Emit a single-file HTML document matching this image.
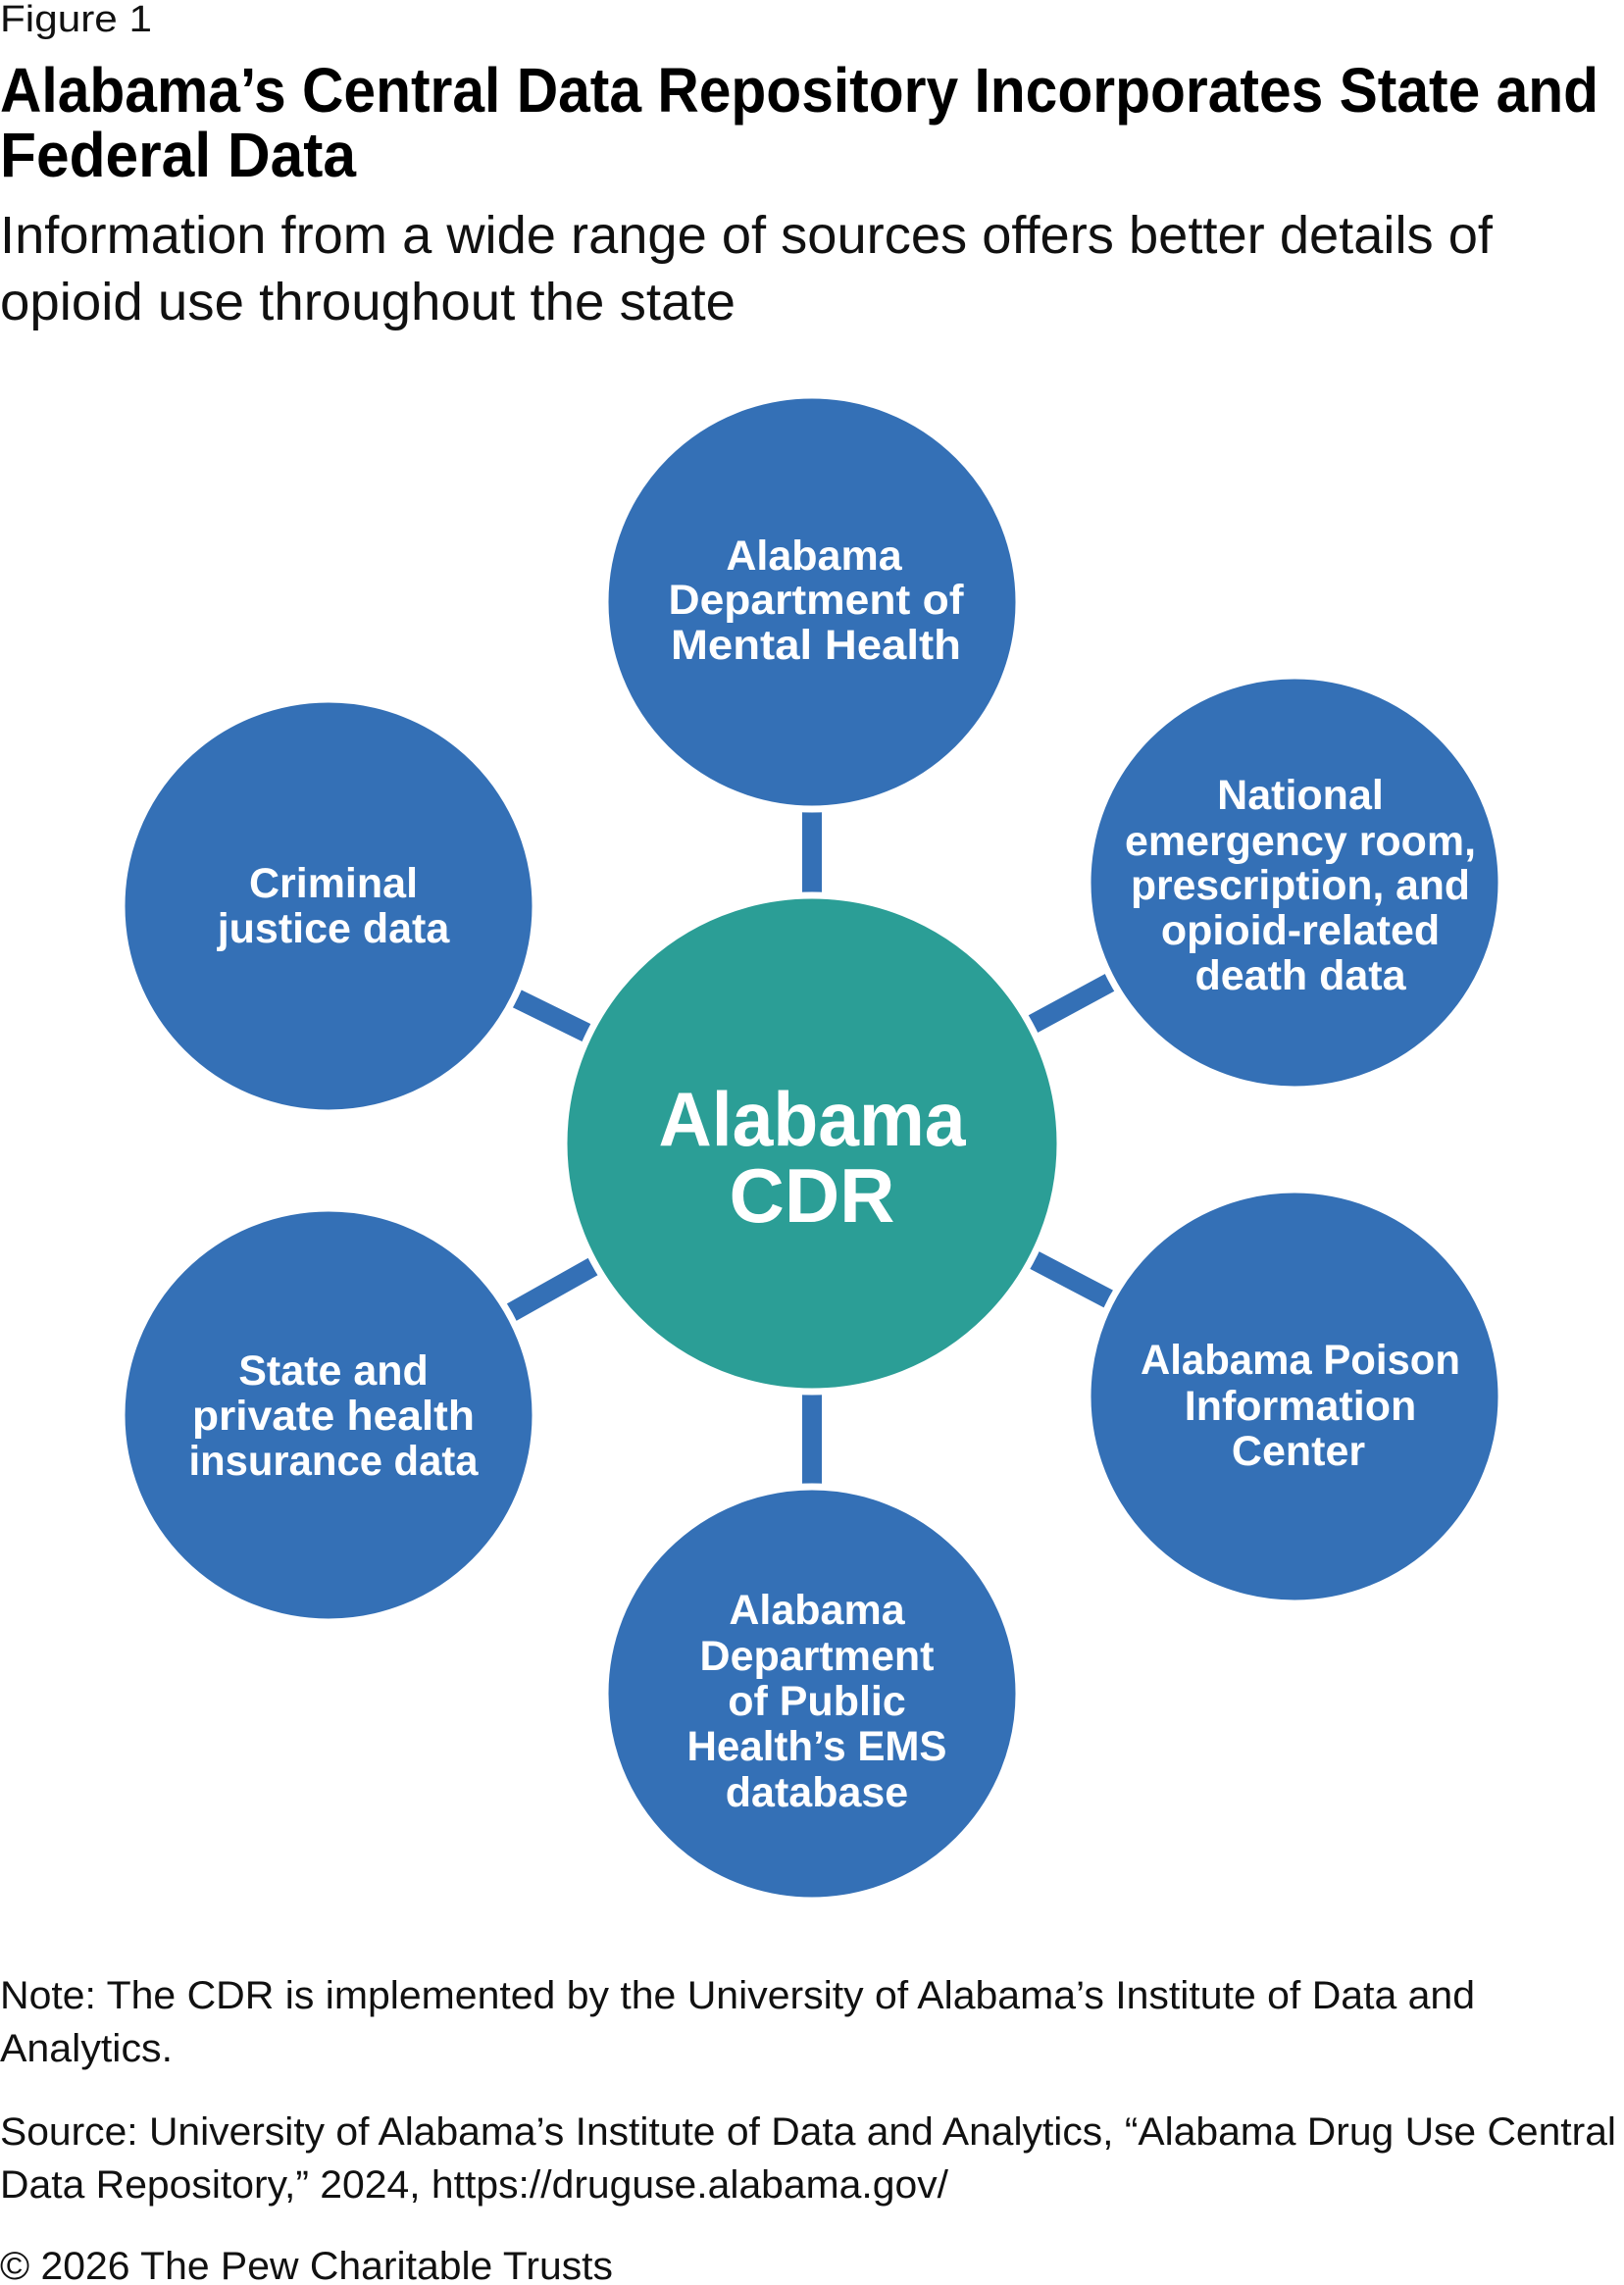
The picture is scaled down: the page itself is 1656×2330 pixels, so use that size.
<!DOCTYPE html>
<html><head><meta charset="utf-8"><style>
html,body{margin:0;padding:0;background:#fff;}
svg{display:block;}
text{font-family:"Liberation Sans",sans-serif;}
.n{fill:#fff;font-weight:bold;font-size:43px;text-anchor:middle;}
.f{font-size:40px;fill:#111;}
</style></head><body>
<svg width="1656" height="2330" viewBox="0 0 1656 2330" xmlns="http://www.w3.org/2000/svg">
<text x="0" y="32" font-size="38" fill="#111" textLength="155" lengthAdjust="spacingAndGlyphs">Figure 1</text>
<text x="0" y="114" font-size="64" font-weight="bold" fill="#000" textLength="1630" lengthAdjust="spacingAndGlyphs">Alabama’s Central Data Repository Incorporates State and</text>
<text x="0" y="180" font-size="64" font-weight="bold" fill="#000" textLength="363" lengthAdjust="spacingAndGlyphs">Federal Data</text>
<text x="0" y="258" font-size="54" fill="#111" textLength="1522" lengthAdjust="spacingAndGlyphs">Information from a wide range of sources offers better details of</text>
<text x="0" y="326" font-size="54" fill="#111" textLength="750" lengthAdjust="spacingAndGlyphs">opioid use throughout the state</text>

<g transform="translate(-3,-4)">
<g stroke="#3470b6" stroke-width="20">
<line x1="831" y1="1170" x2="831" y2="618"/>
<line x1="831" y1="1170" x2="831" y2="1731"/>
<line x1="831" y1="1170" x2="338" y2="928"/>
<line x1="831" y1="1170" x2="338" y2="1447"/>
<line x1="831" y1="1170" x2="1323" y2="904"/>
<line x1="831" y1="1170" x2="1323" y2="1428"/>
</g>
<g fill="#3470b6" stroke="#fff" stroke-width="7">
<circle cx="831" cy="618" r="211"/>
<circle cx="831" cy="1731" r="211"/>
<circle cx="338" cy="928" r="211"/>
<circle cx="338" cy="1447" r="211"/>
<circle cx="1323" cy="904" r="211"/>
<circle cx="1323" cy="1428" r="211"/>
</g>
<circle cx="831" cy="1170" r="253" fill="#2b9e96" stroke="#fff" stroke-width="7"/>

<text class="n" x="833" y="585">Alabama</text>
<text class="n" x="835" y="630" textLength="301" lengthAdjust="spacingAndGlyphs">Department of</text>
<text class="n" x="835" y="676" textLength="296" lengthAdjust="spacingAndGlyphs">Mental Health</text>

<text class="n" x="1329" y="829">National</text>
<text class="n" x="1329" y="876" textLength="358" lengthAdjust="spacingAndGlyphs">emergency room,</text>
<text class="n" x="1329" y="921" textLength="346" lengthAdjust="spacingAndGlyphs">prescription, and</text>
<text class="n" x="1329" y="967">opioid-related</text>
<text class="n" x="1329" y="1013">death data</text>

<text class="n" x="343" y="919">Criminal</text>
<text class="n" x="343" y="965">justice data</text>

<text class="n" x="1329" y="1405" textLength="326" lengthAdjust="spacingAndGlyphs">Alabama Poison</text>
<text class="n" x="1329" y="1452">Information</text>
<text class="n" x="1327" y="1498">Center</text>

<text class="n" x="343" y="1416">State and</text>
<text class="n" x="343" y="1462" textLength="288" lengthAdjust="spacingAndGlyphs">private health</text>
<text class="n" x="343" y="1508" textLength="295" lengthAdjust="spacingAndGlyphs">insurance data</text>

<text class="n" x="836" y="1660">Alabama</text>
<text class="n" x="836" y="1707">Department</text>
<text class="n" x="836" y="1753">of Public</text>
<text class="n" x="836" y="1799" textLength="265" lengthAdjust="spacingAndGlyphs">Health’s EMS</text>
<text class="n" x="836" y="1846">database</text>

<text x="831" y="1172" fill="#fff" font-weight="bold" font-size="78" text-anchor="middle" textLength="313" lengthAdjust="spacingAndGlyphs">Alabama</text>
<text x="831" y="1250" fill="#fff" font-weight="bold" font-size="78" text-anchor="middle">CDR</text>
</g>

<text class="f" x="0" y="2048" textLength="1504" lengthAdjust="spacingAndGlyphs">Note: The CDR is implemented by the University of Alabama’s Institute of Data and</text>
<text class="f" x="0" y="2102" textLength="176" lengthAdjust="spacingAndGlyphs">Analytics.</text>
<text class="f" x="0" y="2187" textLength="1648" lengthAdjust="spacingAndGlyphs">Source: University of Alabama’s Institute of Data and Analytics, “Alabama Drug Use Central</text>
<text class="f" x="0" y="2241" textLength="967" lengthAdjust="spacingAndGlyphs">Data Repository,” 2024, https://druguse.alabama.gov/</text>
<text class="f" x="0" y="2324" textLength="625" lengthAdjust="spacingAndGlyphs">© 2026 The Pew Charitable Trusts</text>
</svg>
</body></html>
